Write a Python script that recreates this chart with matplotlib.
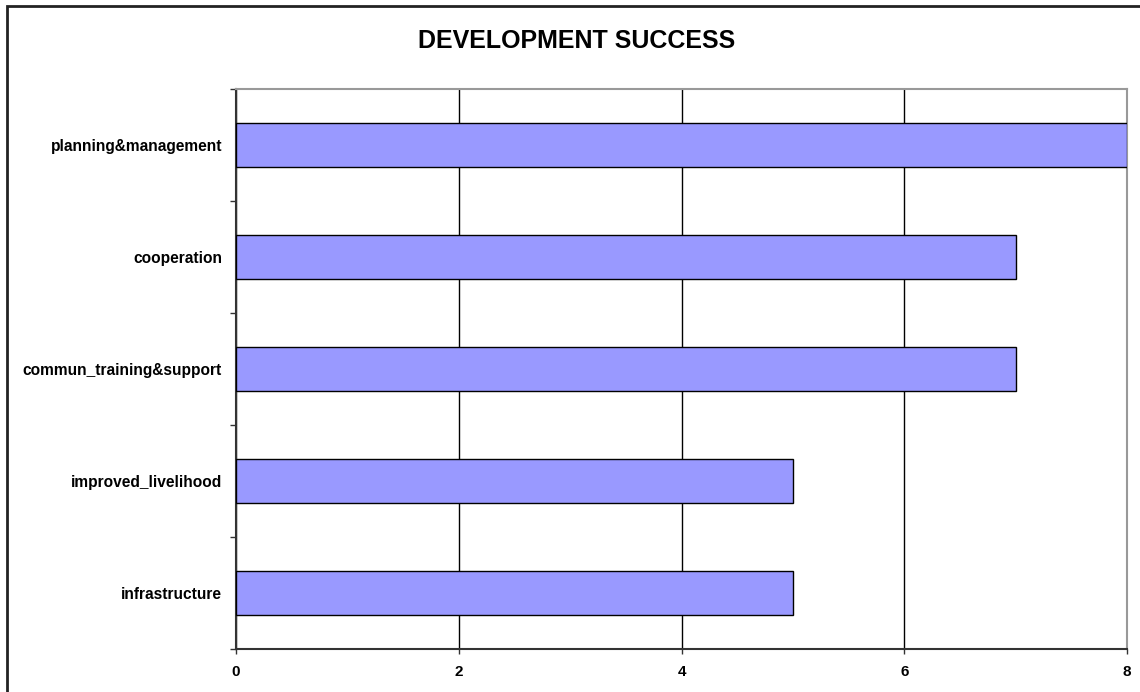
import matplotlib
matplotlib.use("Agg")
import matplotlib.pyplot as plt
from matplotlib.patches import Rectangle

categories = ["infrastructure", "improved_livelihood", "commun_training&support",
              "cooperation", "planning&management"]
values = [5, 5, 7, 7, 8]
xticks = [0, 2, 4, 6, 8]
title = "DEVELOPMENT SUCCESS"

plt.rcParams['font.family'] = ['Liberation Sans', 'DejaVu Sans']

W, H = 1140, 692
fig = plt.figure(figsize=(W / 100, H / 100), dpi=100)
ax = fig.add_axes([236 / W, 1 - 649 / H, (1127 - 236) / W, (649 - 89) / H])

pos = list(range(len(categories)))
ax.barh(pos, values, height=0.39, color="#9999FF", edgecolor="black", linewidth=1.0, zorder=3)

ax.set_xlim(0, 8)
ax.set_ylim(-0.5, len(categories) - 0.5)
ax.set_xticks(xticks)
ax.set_xticklabels([str(t) for t in xticks], fontsize=11, fontweight="bold")
ax.set_yticks(pos)
ax.set_yticklabels(categories, fontsize=11.2, fontweight="bold")
ax.set_yticks([p - 0.5 for p in pos] + [len(categories) - 0.5], minor=True)
ax.tick_params(axis="y", which="major", length=0, pad=10)
ax.tick_params(axis="y", which="minor", length=4, width=1, color="#333333", direction="out")
ax.tick_params(axis="x", which="major", length=3.5, width=1, color="#333333", direction="out", pad=8)

ax.grid(axis="x", color="black", linewidth=1, zorder=0)
ax.set_axisbelow(True)

for s in ["left", "bottom"]:
    ax.spines[s].set_color("#333333")
    ax.spines[s].set_linewidth(1.5)
for s in ["top", "right"]:
    ax.spines[s].set_color("#999999")
    ax.spines[s].set_linewidth(1.5)

fig.text(577 / W, 1 - 41 / H, title, ha="center", va="center", fontsize=18, fontweight="bold")

# chart area border
fig.patches.append(Rectangle((7 / W, -0.05), 1.2, 1 - 6 / H + 0.05, transform=fig.transFigure,
                             fill=False, edgecolor="#222222", linewidth=2))

fig.savefig("out.png", dpi=100)
